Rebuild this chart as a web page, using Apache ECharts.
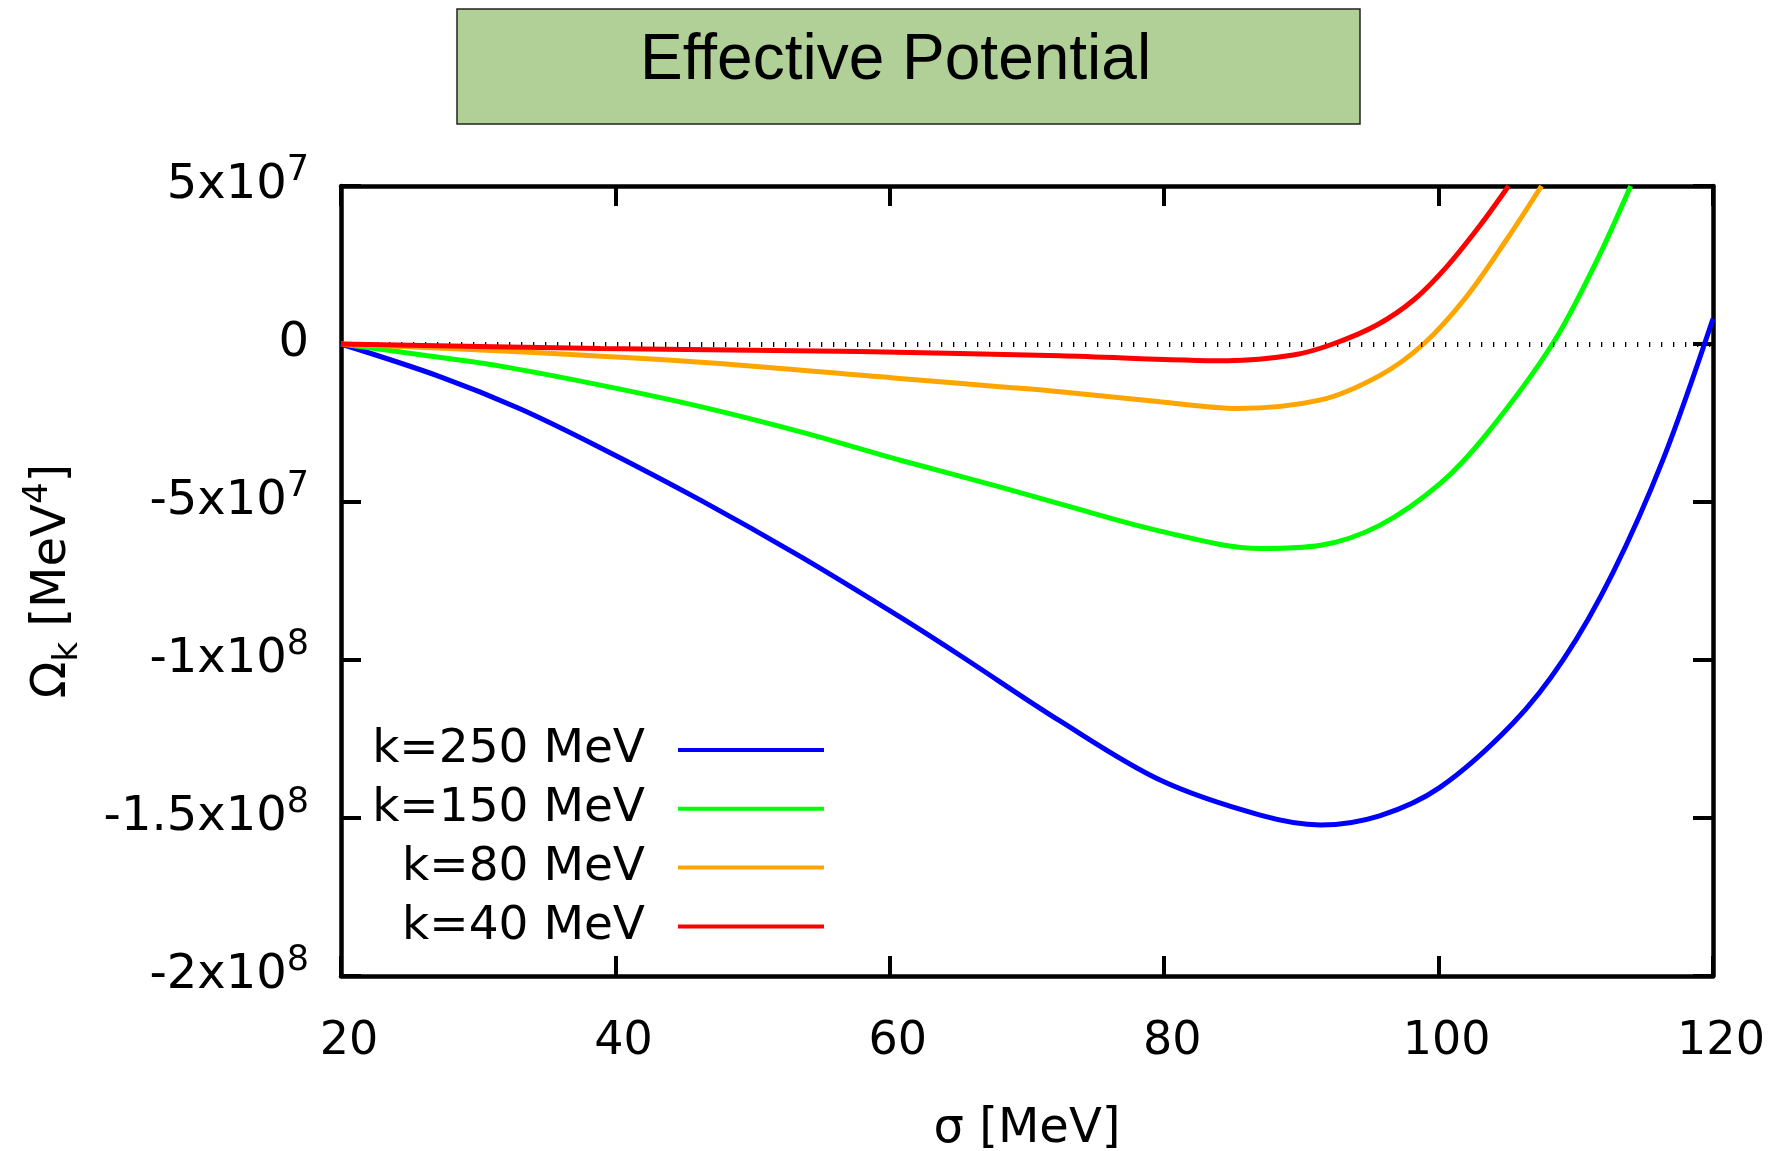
<!DOCTYPE html>
<html>
<head>
<meta charset="utf-8">
<script src="https://cdn.jsdelivr.net/npm/echarts@6/dist/echarts.min.js"></script>
<style>
html, body { margin: 0; padding: 0; background: #fff; }
#chart { width: 1780px; height: 1151px; }
</style>
</head>
<body>
<div id="chart"></div>
<script>
// ---- Data ----
const seriesNames = ['k=250 MeV', 'k=150 MeV', 'k=80 MeV', 'k=40 MeV'];
const seriesColors = ['#0000ff', '#00ff00', '#ffa500', '#ff0000'];

const sigma250 = [20, 27.2, 33.0, 38.9, 46.2, 53.5, 60.7, 65.1, 72.4, 79.7, 87.0, 91.4, 95.7, 100.1, 105.4, 109.1, 112.7, 116.4, 120];
const omega250 = [0, -10.3e6, -20.4e6, -32.8e6, -49.4e6, -67.3e6, -86.3e6, -98.5e6, -119.3e6, -138.0e6, -149.1e6, -152.2e6, -149.3e6, -140.3e6, -120.1e6, -99.8e6, -72.4e6, -36.1e6, 8.0e6];

const sigma150 = [20, 26.3, 31.6, 38.9, 46.2, 53.5, 60.7, 68.0, 72.4, 79.7, 87.0, 91.4, 95.7, 100.1, 103.5, 108.3, 111.5, 114.0];
const omega150 = [0, -3.7e6, -7.0e6, -13.0e6, -19.8e6, -27.8e6, -36.7e6, -45.2e6, -50.6e6, -59.2e6, -64.7e6, -63.7e6, -57.4e6, -44.2e6, -28.5e6, 0, 26.1e6, 50.0e6];

const sigma80 = [20, 32.6, 46.2, 60.7, 68.0, 72.4, 79.7, 85.3, 91.4, 95.7, 98.9, 102.0, 105.0, 107.5];
const omega80 = [0, -2.4e6, -5.8e6, -10.9e6, -13.5e6, -15.1e6, -18.3e6, -20.4e6, -17.7e6, -10.0e6, 0, 14.8e6, 33.3e6, 50.0e6];

const sigma40 = [20, 38.9, 57.8, 72.4, 84.6, 89.4, 92.3, 95.5, 98.2, 100.6, 103.0, 105.1];
const omega40 = [0, -1.4e6, -2.4e6, -3.7e6, -5.3e6, -3.5e6, 0, 6.0e6, 14.0e6, 24.5e6, 37.4e6, 50.0e6];

const xTicks = [20, 40, 60, 80, 100, 120];
const yTickValues = [-2e8, -1.5e8, -1e8, -5e7, 0, 5e7];
const yTickMantissa = ['-2x10', '-1.5x10', '-1x10', '-5x10', '0', '5x10'];
const yTickExponent = ['8', '8', '8', '7', '', '7'];

// ---- Chart ----
const sigmaSets = [sigma250, sigma150, sigma80, sigma40];
const omegaSets = [omega250, omega150, omega80, omega40];

const FONT = 'DejaVu Sans';
const tickRich = {
  m: { fontFamily: FONT, fontSize: 48, color: '#000', lineHeight: 66, verticalAlign: 'middle' },
  s: { fontFamily: FONT, fontSize: 35, color: '#000', lineHeight: 35, verticalAlign: 'top' }
};

function yLabel(v) {
  for (let i = 0; i < yTickValues.length; i++) {
    if (Math.abs(yTickValues[i] - v) < 1) {
      return yTickExponent[i] ? '{m|' + yTickMantissa[i] + '}{s|' + yTickExponent[i] + '}' : '{m|' + yTickMantissa[i] + '}';
    }
  }
  return '';
}

const axisLineStyle = { color: '#000', width: 4.5 };
const tickStyle = { show: true, inside: true, length: 20, lineStyle: { color: '#000', width: 4 } };

const series = seriesNames.map((name, i) => {
  const s = {
    name: name,
    type: 'line',
    data: sigmaSets[i].map((x, j) => [x, omegaSets[i][j]]),
    showSymbol: false,
    symbol: 'none',
    smooth: 0.33,
    clip: true,
    lineStyle: { color: seriesColors[i], width: 5 },
    itemStyle: { color: seriesColors[i] },
    xAxisIndex: 0,
    yAxisIndex: 0,
    z: 2 + i
  };
  if (i === seriesNames.length - 1) {
    s.markLine = {
      silent: true,
      symbol: ['none', 'none'],
      label: { show: false },
      lineStyle: { color: '#000', width: 5, type: [1.3, 10.7] },
      data: [{ yAxis: 0 }]
    };
  }
  return s;
});

const chart = echarts.init(document.getElementById('chart'), null, { renderer: 'canvas' });
chart.setOption({
  animation: false,
  backgroundColor: '#fff',
  title: {
    text: 'Effective Potential',
    left: 457,
    top: 9,
    padding: [20, 209, 31, 183],
    backgroundColor: '#b0d098',
    borderColor: '#222',
    borderWidth: 1.5,
    textStyle: { fontFamily: 'Liberation Sans', fontSize: 64, fontWeight: 'normal', color: '#000', lineHeight: 64 }
  },
  legend: {
    orient: 'vertical',
    align: 'right',
    right: 956,
    top: 725,
    padding: 0,
    itemGap: 8.8,
    itemWidth: 146,
    itemHeight: 4,
    icon: 'rect',
    selectedMode: false,
    data: seriesNames,
    textStyle: { fontFamily: FONT, fontSize: 47, color: '#000', lineHeight: 50, padding: [0, 28, 0, 0] }
  },
  grid: { left: 341, right: 67, top: 186, bottom: 175, containLabel: false, outerBoundsMode: 'none' },
  xAxis: [
    {
      type: 'value', min: 20, max: 120, interval: 20, position: 'bottom',
      axisLine: { show: true, onZero: false, lineStyle: axisLineStyle },
      axisTick: tickStyle,
      splitLine: { show: false },
      axisLabel: {
        margin: 38,
        padding: [0, 0, 0, 16],
        fontFamily: FONT, fontSize: 46, color: '#000', lineHeight: 56,
        formatter: v => (xTicks.indexOf(v) >= 0 ? String(v) : '')
      },
      name: '{m|σ [MeV]}',
      nameLocation: 'middle',
      nameGap: 126,
      nameTextStyle: { rich: { m: { fontFamily: FONT, fontSize: 48, color: '#000', lineHeight: 56 } } }
    },
    {
      type: 'value', min: 20, max: 120, interval: 20, position: 'top',
      axisLine: { show: true, onZero: false, lineStyle: axisLineStyle },
      axisTick: tickStyle,
      splitLine: { show: false },
      axisLabel: { show: false }
    }
  ],
  yAxis: [
    {
      type: 'value', min: -2e8, max: 5e7, interval: 5e7, position: 'left',
      axisLine: { show: true, onZero: false, lineStyle: axisLineStyle },
      axisTick: tickStyle,
      splitLine: { show: false },
      axisLabel: { margin: 32, formatter: yLabel, rich: tickRich },
      name: '{m|Ω}{sub|k}{m| [MeV}{sup|4}{m|]}',
      nameLocation: 'middle',
      nameRotate: 90,
      nameGap: 256,
      nameTextStyle: {
        rich: {
          m: { fontFamily: FONT, fontSize: 48, color: '#000', lineHeight: 64, verticalAlign: 'middle' },
          sub: { fontFamily: FONT, fontSize: 34, color: '#000', lineHeight: 34, verticalAlign: 'bottom' },
          sup: { fontFamily: FONT, fontSize: 34, color: '#000', lineHeight: 34, verticalAlign: 'top' }
        }
      }
    },
    {
      type: 'value', min: -2e8, max: 5e7, interval: 5e7, position: 'right',
      axisLine: { show: true, onZero: false, lineStyle: axisLineStyle },
      axisTick: tickStyle,
      splitLine: { show: false },
      axisLabel: { show: false }
    }
  ],
  series: series
});
</script>
</body>
</html>
